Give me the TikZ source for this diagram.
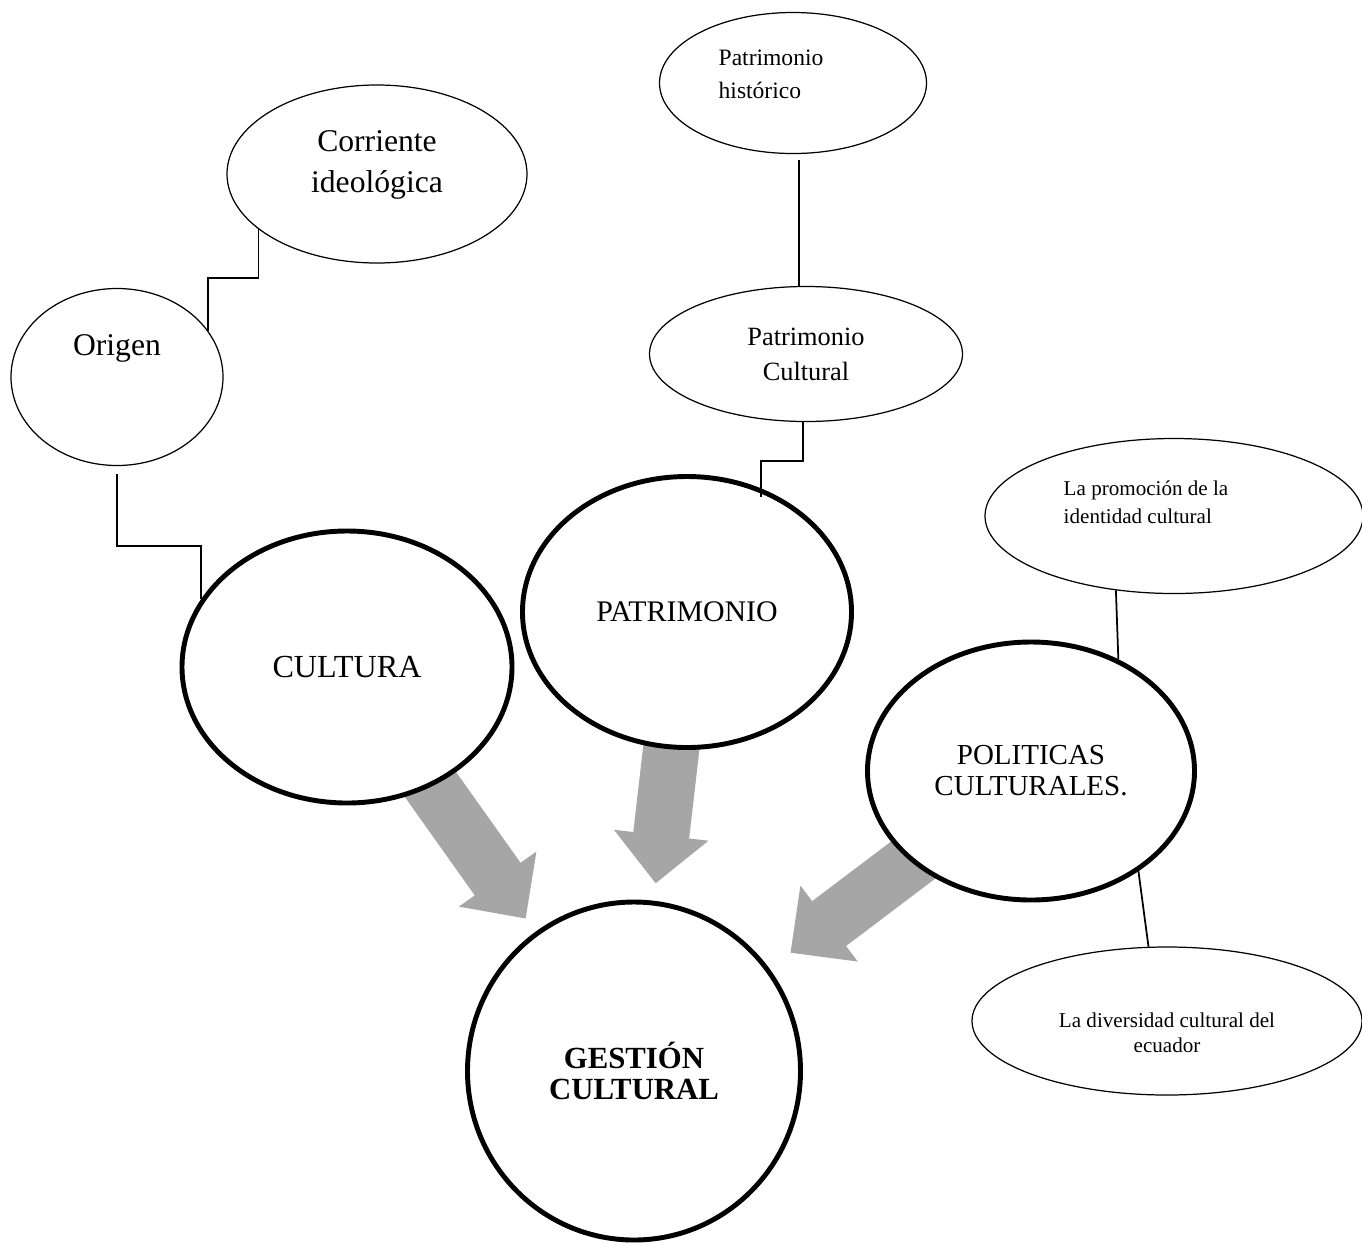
\documentclass[tikz,border=0pt]{standalone}
\usepackage{fontspec}
\setmainfont{Liberation Serif}
\usetikzlibrary{shapes.geometric, arrows.meta, backgrounds}
\definecolor{gris}{RGB}{166,166,166}

\begin{document}
\begin{tikzpicture}[
    fino/.style={ellipse, draw, fill=white, line width=0.7pt, inner sep=0pt, align=center},
    grueso/.style={ellipse, draw, fill=white, line width=2.8pt, inner sep=0pt, align=center},
    enlace/.style={line width=1pt},
    flecha/.style={draw=gris, line width=32pt, -{Triangle[width=54pt,length=27.5pt,line width=0.8pt]}}]
  \useasboundingbox (0,0) rectangle (27.24,-24.84);

  \node[grueso, minimum width=6.66cm, minimum height=6.76cm,
        font=\fontsize{17.5}{17.6}\selectfont\bfseries] (gc) at (12.68,-21.42) {GESTIÓN\\CULTURAL};
  \node[grueso, minimum width=6.6cm, minimum height=5.44cm,
        font=\fontsize{18.3}{19}\selectfont] (cul) at (6.94,-13.34) {CULTURA};
  \node[grueso, minimum width=6.58cm, minimum height=5.42cm,
        font=\fontsize{17}{18}\selectfont] (pat) at (13.74,-12.24) {PATRIMONIO};
  \node[grueso, minimum width=6.54cm, minimum height=5.16cm,
        font=\fontsize{16.5}{17.6}\selectfont] (pol) at (20.62,-15.42) {POLITICAS\\CULTURALES.};

  \node[fino, minimum width=4.24cm, minimum height=3.54cm,
        label={[font=\fontsize{18}{23}\selectfont, yshift=0.58cm]center:Origen}] (ori) at (2.34,-7.54) {};
  \node[fino, minimum width=6cm, minimum height=3.56cm,
        label={[font=\fontsize{18}{23.2}\selectfont, align=center, yshift=0.18cm]center:Corriente\\ideológica}] (cor) at (7.54,-3.48) {};
  \node[fino, minimum width=5.34cm, minimum height=2.82cm,
        label={[font=\fontsize{13.4}{18.7}\selectfont, align=left, xshift=-0.44cm, yshift=0.18cm]center:Patrimonio\\histórico}] (ph) at (15.86,-1.66) {};
  \node[fino, minimum width=6.26cm, minimum height=2.7cm,
        font=\fontsize{15}{19.8}\selectfont] (pc) at (16.12,-7.08) {Patrimonio\\Cultural};
  \node[fino, minimum width=7.56cm, minimum height=3.1cm,
        label={[font=\fontsize{12}{15.9}\selectfont, align=left, xshift=-0.56cm, yshift=0.28cm]center:La promoción de la\\identidad cultural}] (pr) at (23.48,-10.32) {};
  \node[fino, minimum width=7.8cm, minimum height=2.96cm,
        label={[font=\fontsize{12}{14.2}\selectfont, align=center, yshift=-0.24cm]center:La diversidad cultural del\\ecuador}] (div) at (23.34,-20.42) {};

  \draw[enlace] (ori.27) -- ++(0,1.06) -| (cor.205);
  \draw[enlace] ([yshift=-0.16cm]ori.south) -- ++(0,-1.44) -| (cul.155);
  \draw[enlace] ([xshift=0.12cm,yshift=-0.12cm]ph.south) -- ([xshift=0.12cm]ph.south |- pc.north);
  \draw[enlace] ([xshift=-0.06cm]pc.south) -- ++(0,-0.78) -| ([yshift=-0.18cm]pat.59);
  \draw[enlace] (pr.232) -- (pol.52);
  \draw[enlace] (pol.-43) -- (div.104);

  \begin{scope}[on background layer]
    \draw[flecha, shorten >=9.4pt] (cul.center) -- (gc);
    \draw[flecha, shorten >=10pt] (pat.center) -- (gc);
    \draw[flecha, shorten >=15pt] (pol.center) -- (gc);
  \end{scope}
\end{tikzpicture}
\end{document}
